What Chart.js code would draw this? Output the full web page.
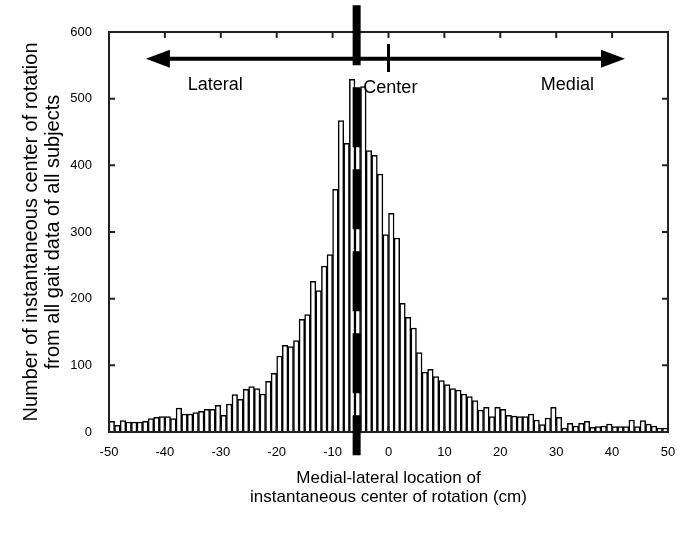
<!DOCTYPE html>
<html>
<head>
<meta charset="utf-8">
<script src="https://cdn.jsdelivr.net/npm/chart.js@4.4.0/dist/chart.umd.min.js"></script>
<style>
  html, body { margin: 0; padding: 0; background: #fff; }
</style>
</head>
<body>
<canvas id="myChart" width="692" height="533"></canvas>
<script>
// histogram, 1 cm bins from -50 to 50 cm
const binLeft = -50;
const binWidth = 1;
const counts = [
  16, 10, 17, 15, 15, 15, 16, 20, 22, 23,
  23, 20, 36, 27, 27, 29, 31, 34, 34, 40,
  25, 42, 56, 49, 64, 68, 65, 57, 76, 88,
  114, 130, 128, 137, 169, 176, 226, 212, 249, 266,
  364, 467, 433, 529, 515, 518, 422, 415, 387, 296,
  328, 291, 193, 172, 156, 119, 90, 94, 83, 77,
  71, 65, 63, 57, 53, 47, 33, 37, 23, 37,
  34, 25, 24, 23, 23, 27, 18, 11, 21, 37,
  22, 6, 13, 9, 13, 16, 7, 8, 9, 12,
  8, 8, 8, 18, 8, 17, 12, 9, 6, 6
];
const xTicks = [-50, -40, -30, -20, -10, 0, 10, 20, 30, 40, 50];
const yTicks = [0, 100, 200, 300, 400, 500, 600];

// annotations (data units)
const centerLineX = -5.7;
const centerLineSpan = [640, -35];
const arrowSpan = [-43.4, 42.3];
const arrowY = 560;
const zeroMarkSpan = [582, 540];
const sideLabels = [
  { text: 'Lateral', x: -31, y: 520, align: 'center' },
  { text: 'Center', x: -4.5, y: 516, align: 'left' },
  { text: 'Medial', x: 32, y: 520, align: 'center' }
];

const xTitle = ['Medial-lateral location of', 'instantaneous center of rotation (cm)'];
const yTitle = ['Number of instantaneous center of rotation', 'from all gait data of all subjects'];

const FONT = '"Liberation Sans", Arial, sans-serif';

const decor = {
  id: 'decor',
  afterDatasetsDraw(chart) {
    const { ctx, chartArea: a, scales: { x, y } } = chart;
    ctx.save();
    // frame
    ctx.strokeStyle = '#222';
    ctx.lineWidth = 2;
    ctx.strokeRect(a.left, a.top, a.right - a.left, a.bottom - a.top);
    // inward ticks
    ctx.beginPath();
    xTicks.slice(1, -1).forEach(v => {
      const px = x.getPixelForValue(v);
      ctx.moveTo(px, a.top); ctx.lineTo(px, a.top + 6);
      ctx.moveTo(px, a.bottom); ctx.lineTo(px, a.bottom - 6);
    });
    yTicks.slice(1, -1).forEach(v => {
      const py = y.getPixelForValue(v);
      ctx.moveTo(a.left, py); ctx.lineTo(a.left + 6, py);
      ctx.moveTo(a.right, py); ctx.lineTo(a.right - 6, py);
    });
    ctx.stroke();

    // thick dashed line
    const cx = x.getPixelForValue(centerLineX);
    ctx.strokeStyle = '#000';
    ctx.lineWidth = 8;
    ctx.setLineDash([60, 22]);
    ctx.beginPath();
    ctx.moveTo(cx, y.getPixelForValue(centerLineSpan[0]));
    ctx.lineTo(cx, y.getPixelForValue(centerLineSpan[1]));
    ctx.stroke();
    ctx.setLineDash([]);

    // double arrow
    const ay = y.getPixelForValue(arrowY);
    const x1 = x.getPixelForValue(arrowSpan[0]);
    const x2 = x.getPixelForValue(arrowSpan[1]);
    ctx.lineWidth = 4;
    ctx.beginPath();
    ctx.moveTo(x1 + 20, ay); ctx.lineTo(x2 - 20, ay);
    ctx.stroke();
    ctx.fillStyle = '#000';
    ctx.beginPath();
    ctx.moveTo(x1, ay); ctx.lineTo(x1 + 24, ay - 9); ctx.lineTo(x1 + 24, ay + 9); ctx.closePath();
    ctx.moveTo(x2, ay); ctx.lineTo(x2 - 24, ay - 9); ctx.lineTo(x2 - 24, ay + 9); ctx.closePath();
    ctx.fill();
    // zero mark
    const zx = x.getPixelForValue(0);
    ctx.lineWidth = 3;
    ctx.beginPath();
    ctx.moveTo(zx, y.getPixelForValue(zeroMarkSpan[0]));
    ctx.lineTo(zx, y.getPixelForValue(zeroMarkSpan[1]));
    ctx.stroke();

    // labels
    ctx.font = '18px ' + FONT;
    ctx.textBaseline = 'middle';
    sideLabels.forEach(l => {
      ctx.textAlign = l.align;
      ctx.fillText(l.text, x.getPixelForValue(l.x), y.getPixelForValue(l.y));
    });
    ctx.restore();
  }
};

const ctx = document.getElementById('myChart').getContext('2d');
new Chart(ctx, {
  type: 'bar',
  data: {
    datasets: [{
      data: counts.map((c, i) => ({ x: binLeft + (i + 0.5) * binWidth, y: c })),
      backgroundColor: '#fff',
      borderColor: '#000',
      borderWidth: 1.5,
      barPercentage: 1,
      categoryPercentage: 1
    }]
  },
  options: {
    responsive: false,
    animation: false,
    layout: { padding: { top: 32, right: 24, left: 0, bottom: 0 } },
    plugins: { legend: { display: false }, tooltip: { enabled: false } },
    scales: {
      x: {
        type: 'linear',
        min: -50,
        max: 50,
        offset: false,
        grid: { display: false, drawTicks: false },
        border: { display: false },
        afterBuildTicks: s => { s.ticks = xTicks.map(v => ({ value: v })); },
        afterFit: s => { s.height = 101; },
        ticks: {
          padding: 13,
          maxRotation: 0,
          autoSkip: false,
          color: '#000',
          font: { family: FONT, size: 13 }
        },
        title: {
          display: true,
          text: xTitle,
          color: '#000',
          font: { family: FONT, size: 17, lineHeight: 1.12 },
          padding: { top: 0, bottom: 26 }
        }
      },
      y: {
        min: 0,
        max: 600,
        grid: { display: false, drawTicks: false },
        border: { display: false },
        afterBuildTicks: s => { s.ticks = yTicks.map(v => ({ value: v })); },
        afterFit: s => { s.width = 109; },
        ticks: {
          padding: 17,
          color: '#000',
          font: { family: FONT, size: 13 }
        },
        title: {
          display: true,
          text: yTitle,
          color: '#000',
          font: { family: FONT, size: 20, lineHeight: 1.1 },
          padding: { top: 20, bottom: 0 }
        }
      }
    }
  },
  plugins: [decor]
});
</script>
</body>
</html>
